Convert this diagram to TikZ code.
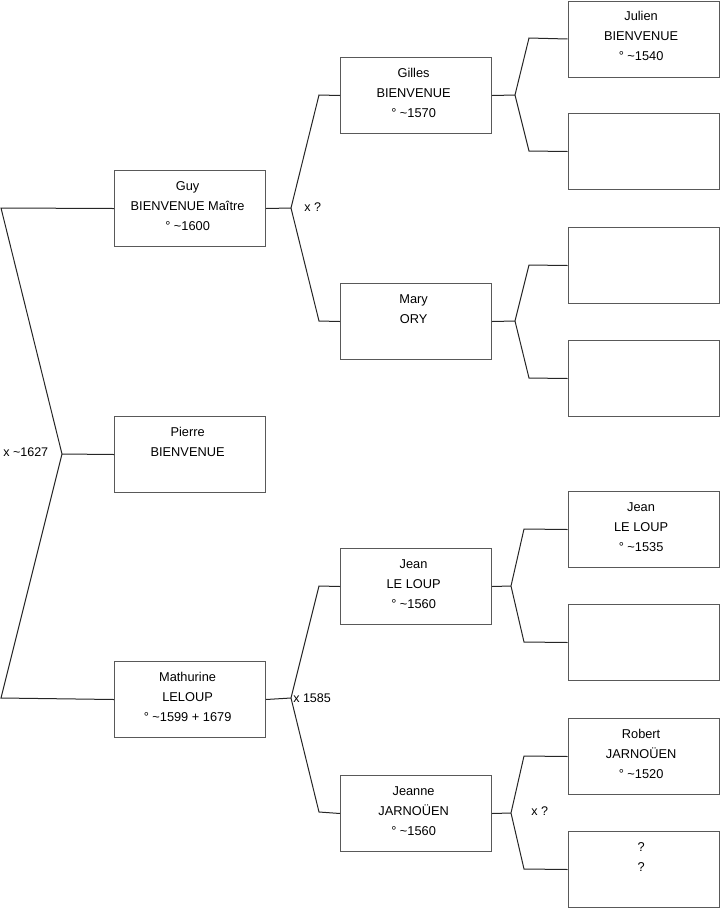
\documentclass[tikz,border=0pt]{standalone}
\usepackage{fontspec}
\setmainfont{Liberation Sans}
\begin{document}
\begin{tikzpicture}[x=0.75pt,y=-0.75pt,
 box/.style={draw=black!65, line width=0.75pt, minimum width=113.25pt, minimum height=57pt, inner sep=0pt, anchor=north west},
 txt/.style={anchor=north, inner sep=0pt, align=center, font=\fontsize{9.6}{15}\selectfont, yshift=-4.6pt, xshift=-1.8pt},
 conn/.style={draw=black!85, line width=0.75pt},
 lbl/.style={inner sep=0pt, anchor=west, font=\fontsize{9.4}{11}\selectfont}]
\useasboundingbox (0,0) rectangle (719,908);
% generation 1
\node[box] (guy) at (114,170) {};
\node[box] (pierre) at (114,416) {};
\node[box] (math) at (114,661) {};
% generation 2
\node[box] (gilles) at (340,57) {};
\node[box] (mary) at (340,283) {};
\node[box] (jean) at (340,548) {};
\node[box] (jeanne) at (340,775) {};
% generation 3
\node[box] (julien) at (567.5,0.5) {};
\node[box] (e1) at (567.5,113) {};
\node[box] (e2) at (567.5,227) {};
\node[box] (e3) at (567.5,340) {};
\node[box] (jeanll) at (567.5,491) {};
\node[box] (e4) at (567.5,604) {};
\node[box] (robert) at (567.5,718) {};
\node[box] (unk) at (567.5,831) {};
% texts
\node[txt] (guyT) at (guy.north) {\strut Guy\\BIENVENUE Maître\\° \textasciitilde1600};
\node[txt] (pierreT) at (pierre.north) {\strut Pierre\\BIENVENUE};
\node[txt] (mathT) at (math.north) {\strut Mathurine\\LELOUP\\° \textasciitilde1599 + 1679};
\node[txt] (gillesT) at (gilles.north) {\strut Gilles\\BIENVENUE\\° \textasciitilde1570};
\node[txt] (maryT) at (mary.north) {\strut Mary\\ORY};
\node[txt] (jeanT) at (jean.north) {\strut Jean\\LE LOUP\\° \textasciitilde1560};
\node[txt] (jeanneT) at (jeanne.north) {\strut Jeanne\\JARNOÜEN\\° \textasciitilde1560};
\node[txt] (julienT) at (julien.north) {\strut Julien\\BIENVENUE\\° \textasciitilde1540};
\node[txt] (jeanllT) at (jeanll.north) {\strut Jean\\LE LOUP\\° \textasciitilde1535};
\node[txt] (robertT) at (robert.north) {\strut Robert\\JARNOÜEN\\° \textasciitilde1520};
\node[txt] (unkT) at (unk.north) {\strut ?\\?};
% fork coordinates
\coordinate (r0) at (62,454);
\coordinate (r1) at (1,208);
\coordinate (r2) at (1,698);
\coordinate (g0) at (291,208);
\coordinate (g1) at (319,95);
\coordinate (g2) at (319,321);
\coordinate (m0) at (291,698);
\coordinate (m1) at (319,586);
\coordinate (m2) at (319,812);
\coordinate (a0) at (515,95);
\coordinate (a1) at (529,38);
\coordinate (a2) at (529,151);
\coordinate (b0) at (515,321);
\coordinate (b1) at (529,265);
\coordinate (b2) at (529,378);
\coordinate (c0) at (511,586);
\coordinate (c1) at (524,529);
\coordinate (c2) at (524,642);
\coordinate (d0) at (511,813);
\coordinate (d1) at (524,756);
\coordinate (d2) at (524,869);
% connectors
\draw[conn] (guy.west) -- (r1) -- (r0) -- (r2) -- (math.west);
\draw[conn] (r0) -- (pierre.west);
\draw[conn] (guy.east) -- (g0);
\draw[conn] (gilles.west) -- (g1) -- (g0) -- (g2) -- (mary.west);
\draw[conn] (math.east) -- (m0);
\draw[conn] (jean.west) -- (m1) -- (m0) -- (m2) -- (jeanne.west);
\draw[conn] (gilles.east) -- (a0);
\draw[conn] (julien.west) -- (a1) -- (a0) -- (a2) -- (e1.west);
\draw[conn] (mary.east) -- (b0);
\draw[conn] (e2.west) -- (b1) -- (b0) -- (b2) -- (e3.west);
\draw[conn] (jean.east) -- (c0);
\draw[conn] (jeanll.west) -- (c1) -- (c0) -- (c2) -- (e4.west);
\draw[conn] (jeanne.east) -- (d0);
\draw[conn] (robert.west) -- (d1) -- (d0) -- (d2) -- (unk.west);
% labels
\node[lbl] (l1) at (3,452) {x \textasciitilde1627};
\node[lbl] (l2) at (304,207) {x ?};
\node[lbl] (l3) at (293,698) {x 1585};
\node[lbl] (l4) at (531,811) {x ?};
\end{tikzpicture}
\end{document}
